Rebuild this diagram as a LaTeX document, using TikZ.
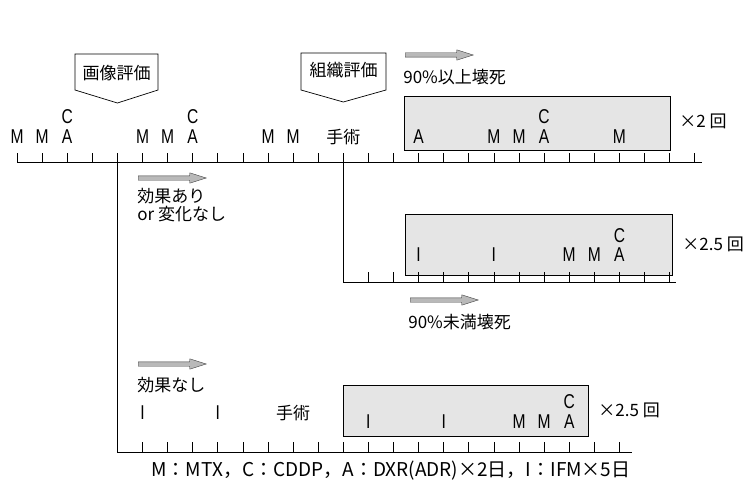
\documentclass[tikz,border=0pt]{standalone}
\usepackage{fontspec}
\setmainfont{Liberation Sans}
\newfontfamily\jp{Noto Sans CJK JP}
\newfontfamily\lbl{Liberation Sans}[FakeStretch=0.78]
\usetikzlibrary{shapes.arrows}
\newcommand{\gridx}[1]{17+25.1*#1}
\tikzset{
  lab/.style={font=\lbl\fontsize{20}{20}\selectfont,anchor=base,inner sep=0pt},
  jtxt/.style={font=\jp\fontsize{17}{17}\selectfont,inner sep=0pt},
  regimen/.style={draw,fill=gray!20,line width=0.7pt},
  callout/.style={draw,fill=white,line width=0.7pt},
  fatarrow/.style={single arrow,draw=black!75,fill=gray!55,line width=0.4pt,
    minimum height=68pt,minimum width=10pt,inner sep=2pt,
    single arrow head extend=3pt,single arrow tip angle=35,anchor=west}
}

\begin{document}
\begin{tikzpicture}[x=1pt,y=-1pt,line width=0.7pt]
    \useasboundingbox (0,0) rectangle (753,503);

    \draw [regimen] (404,96) rectangle (670,150);
    \draw [regimen] (405,214) rectangle (672,275);
    \draw [regimen] (343,385) rectangle (588,436);

    \coordinate (img) at ({\gridx{4}},162);
    \coordinate (ope) at ({\gridx{13}},162);
    \draw (17,153) -- (17,162) -- (702,162);
    \foreach \n in {1,...,27} \draw ({\gridx{\n}},153) -- ({\gridx{\n}},162);
    \draw (img) -- ({\gridx{4}},452) coordinate (low) -- (632,452);
    \foreach \n in {5,...,24} \draw ({\gridx{\n}},442) -- ({\gridx{\n}},452);
    \draw (ope) -- ({\gridx{13}},282) coordinate (mid) -- (676,282);
    \foreach \n in {14,...,26} \draw ({\gridx{\n}},272) -- ({\gridx{\n}},282);

    \draw [callout] (75,54) -- (158,54) -- (158,90) -- ({\gridx{4}},103) -- (75,90) -- cycle;
    \node [jtxt] (imgeval) at (116.5,73) {画像評価};
    \draw [callout] (301,53) -- (386,53) -- (386,90) -- ({\gridx{13}},102) -- (301,90) -- cycle;
    \node [jtxt] (histeval) at (343.5,70) {組織評価};

    \foreach \n/\t in {0/M,1/M,2/A,5/M,6/M,7/A,10/M,11/M,16/A,19/M,20/M,21/A,24/M}
      \node [lab] (top\n) at ({\gridx{\n}},143) {\t};
    \foreach \n in {2,7,21} \node [lab] (topc\n) at ({\gridx{\n}},124) {C};
    \node [jtxt,anchor=base] (surg1) at ({\gridx{13}},143) {手術};
    \node [jtxt,anchor=west] (rep1) at (679,121) {×2 回};

    \foreach \n/\t in {16/I,19/I,22/M,23/M,24/A}
      \node [lab] (mid\n) at ({\gridx{\n}},261) {\t};
    \node [lab] (midc) at ({\gridx{24}},242) {C};
    \node [jtxt,anchor=west] (rep2) at (682,244) {×2.5 回};

    \foreach \n/\t in {5/I,8/I}
      \node [lab] (lowl\n) at ({\gridx{\n}},419) {\t};
    \node [jtxt,anchor=base] (surg2) at ({\gridx{11}},419) {手術};
    \foreach \n/\t in {14/I,17/I,20/M,21/M,22/A}
      \node [lab] (low\n) at ({\gridx{\n}},428) {\t};
    \node [lab] (lowc) at ({\gridx{22}},408) {C};
    \node [jtxt,anchor=west] (rep3) at (598,410) {×2.5 回};

    \node [fatarrow] (ar1) at (405,55) {};
    \node [jtxt,anchor=west] (good) at (403,77) {90\%以上壊死};
    \node [fatarrow] (ar2) at (138,178) {};
    \node [jtxt,anchor=west] (resp) at (137,196) {効果あり};
    \node [jtxt,anchor=west] (stable) at (137,214) {or 変化なし};
    \node [fatarrow] (ar3) at (410,300) {};
    \node [jtxt,anchor=west] (poor) at (408,322) {90\%未満壊死};
    \node [fatarrow] (ar4) at (138,364) {};
    \node [jtxt,anchor=west] (nores) at (137,385) {効果なし};

    \node [jtxt,font=\jp\fontsize{19}{19}\selectfont] (legend) at (391,471) {M：MTX，C：CDDP，A：DXR(ADR)×2日，I：IFM×5日};
\end{tikzpicture}
\end{document}
